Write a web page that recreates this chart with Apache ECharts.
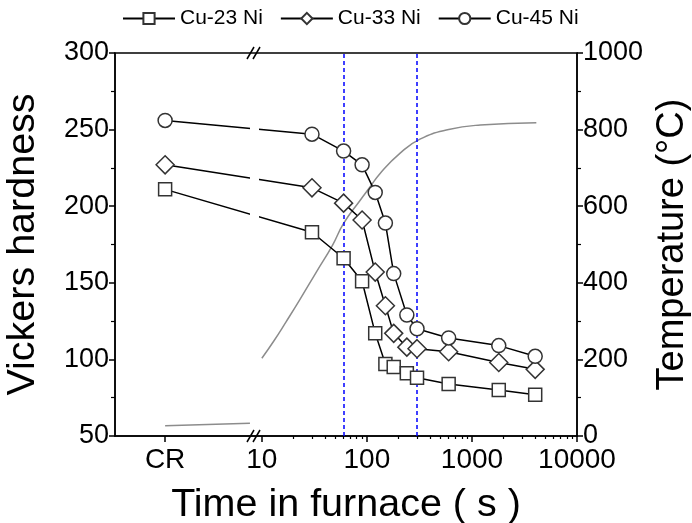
<!DOCTYPE html>
<html>
<head>
<meta charset="utf-8">
<script src="https://cdn.jsdelivr.net/npm/echarts@6/dist/echarts.min.js"></script>
<style>
html,body{margin:0;padding:0;background:#fff;}
#chart{width:692px;height:523px;}
</style>
</head>
<body>
<div id="chart"></div>
<script>
// ---- data ----
const crPosition = 1.2;            // where the "CR" (cold rolled) state sits on the broken time axis
const times = [30, 60, 90, 120, 150, 180, 240, 300, 600, 1800, 4000];
const cu23CR = 211;
const cu23 = [183, 166, 151, 117, 97, 95, 91, 88, 84, 80, 77];
const cu33CR = 227;
const cu33 = [212, 202, 191, 157, 135, 117, 108, 107, 105, 98, 93.5];
const cu45CR = 256;
const cu45 = [247, 236, 227, 209, 189, 156, 129, 120, 114, 109, 102];

const tempTimes = [10, 13, 17, 23, 33, 47, 60, 86, 107, 133, 206, 320, 600, 1200, 4100];
const tempValues = [203, 248, 298, 356, 428, 498, 555, 615, 650, 685, 738, 775, 800, 812, 818];
const crTempTimes = [1.2, 7.7];
const crTempValues = [27, 33];

const markerTimes = [60, 300];
const seriesNames = ['Cu-23 Ni', 'Cu-33 Ni', 'Cu-45 Ni'];
const xMajorTicks = [crPosition, 10, 100, 1000, 10000];
const xMinorTicks = [20,30,40,50,60,70,80,90,200,300,400,500,600,700,800,900,2000,3000,4000,5000,6000,7000,8000,9000];

// ---- build ----
function pts(cr, vals) {
  return [[crPosition, cr]].concat(times.map((t, i) => [t, vals[i]]));
}
const chart = echarts.init(document.getElementById('chart'));
const FONT = 'Liberation Sans, Arial, sans-serif';
const hardStyle = (name, symbol, size, data) => ({
  name, type: 'line', data, symbol, symbolSize: size,
  xAxisIndex: 0, yAxisIndex: 0, z: 5,
  lineStyle: { color: '#000', width: 1.5 },
  itemStyle: { color: '#fff', borderColor: '#333', borderWidth: 1.5 }
});

const option = {
  animation: false,
  textStyle: { fontFamily: FONT },
  legend: {
    data: seriesNames, top: 3, left: 117, itemWidth: 52, itemHeight: 14, itemGap: 17,
    textStyle: { fontSize: 21, color: '#000', fontFamily: FONT }
  },
  grid: { left: 115, right: 115, top: 53, bottom: 87, outerBoundsMode: 'none', containLabel: false,
          show: true, borderColor: '#000', borderWidth: 1.5, backgroundColor: 'transparent' },
  xAxis: [{
    type: 'log', logBase: 10, min: 0.4, max: 10000, position: 'bottom',
    axisLine: { lineStyle: { color: '#000', width: 1.5 } },
    axisTick: { customValues: xMajorTicks, length: 6, lineStyle: { color: '#000', width: 1.5 } },
    axisLabel: {
      customValues: xMajorTicks, fontSize: 28, color: '#000', margin: 10, fontFamily: FONT,
      formatter: v => (v < 5 ? 'CR' : String(Math.round(v)))
    },
    splitLine: { show: false }, minorTick: { show: false },
    name: 'Time in furnace ( s )', nameLocation: 'middle', nameGap: 49,
    nameTextStyle: { fontSize: 39.5, color: '#000', fontFamily: FONT }
  }, {
    type: 'log', logBase: 10, min: 0.4, max: 10000, position: 'bottom', gridIndex: 0,
    axisLine: { show: false },
    axisTick: { customValues: xMinorTicks, length: 3, lineStyle: { color: '#000', width: 1.2 } },
    axisLabel: { show: false }, splitLine: { show: false }
  }],
  yAxis: [{
    type: 'value', min: 50, max: 300, interval: 50, position: 'left',
    axisLine: { show: true, lineStyle: { color: '#000', width: 1.5 } },
    axisTick: { show: true, length: 6, lineStyle: { color: '#000', width: 1.5 } },
    minorTick: { show: true, splitNumber: 2, length: 4, lineStyle: { color: '#000', width: 1.2 } },
    axisLabel: { fontSize: 27, color: '#000', margin: 6, fontFamily: FONT },
    splitLine: { show: false },
    name: 'Vickers hardness', nameLocation: 'middle', nameGap: 72,
    nameTextStyle: { fontSize: 39.5, color: '#000', fontFamily: FONT }
  }, {
    type: 'value', min: 0, max: 1000, interval: 200, position: 'right',
    axisLine: { show: true, lineStyle: { color: '#000', width: 1.5 } },
    axisTick: { show: true, length: 6, lineStyle: { color: '#000', width: 1.5 } },
    minorTick: { show: true, splitNumber: 2, length: 4, lineStyle: { color: '#000', width: 1.2 } },
    axisLabel: { fontSize: 27, color: '#000', margin: 6, fontFamily: FONT, formatter: v => String(v) },
    splitLine: { show: false },
    name: 'Temperature (°C)', nameLocation: 'middle', nameGap: 72, nameRotate: 90,
    nameTextStyle: { fontSize: 38, color: '#000', fontFamily: FONT }
  }],
  series: [
    {
      name: 'temp', type: 'line', xAxisIndex: 0, yAxisIndex: 1, showSymbol: false, symbol: 'none', smooth: 0.5, z: 3,
      data: tempTimes.map((t, i) => [t, tempValues[i]]),
      lineStyle: { color: '#8c8c8c', width: 1.5 },
      markLine: {
        silent: true, symbol: 'none', label: { show: false },
        lineStyle: { color: '#0000ff', type: [4, 3], width: 1.5 },
        data: markerTimes.map(t => ({ xAxis: t }))
      }
    },
    {
      name: 'tempCR', type: 'line', xAxisIndex: 0, yAxisIndex: 1, symbol: 'none', z: 3,
      data: crTempTimes.map((t, i) => [t, crTempValues[i]]),
      lineStyle: { color: '#8c8c8c', width: 1.5 }
    },
    hardStyle(seriesNames[0], 'rect', 13, pts(cu23CR, cu23)),
    hardStyle(seriesNames[1], 'diamond', 18, pts(cu33CR, cu33)),
    hardStyle(seriesNames[2], 'circle', 14, pts(cu45CR, cu45))
  ],
  graphic: [
    { type: 'rect', z: 100, shape: { x: 250, y: 56, width: 9, height: 377 }, style: { fill: '#fff' } },
    { type: 'line', z: 101, shape: { x1: 247, y1: 442, x2: 254, y2: 430 }, style: { stroke: '#000', lineWidth: 1.5 } },
    { type: 'line', z: 101, shape: { x1: 253, y1: 442, x2: 260, y2: 430 }, style: { stroke: '#000', lineWidth: 1.5 } },
    { type: 'line', z: 101, shape: { x1: 247, y1: 59, x2: 254, y2: 47 }, style: { stroke: '#000', lineWidth: 1.5 } },
    { type: 'line', z: 101, shape: { x1: 253, y1: 59, x2: 260, y2: 47 }, style: { stroke: '#000', lineWidth: 1.5 } }
  ]
};
chart.setOption(option);
</script>
</body>
</html>
